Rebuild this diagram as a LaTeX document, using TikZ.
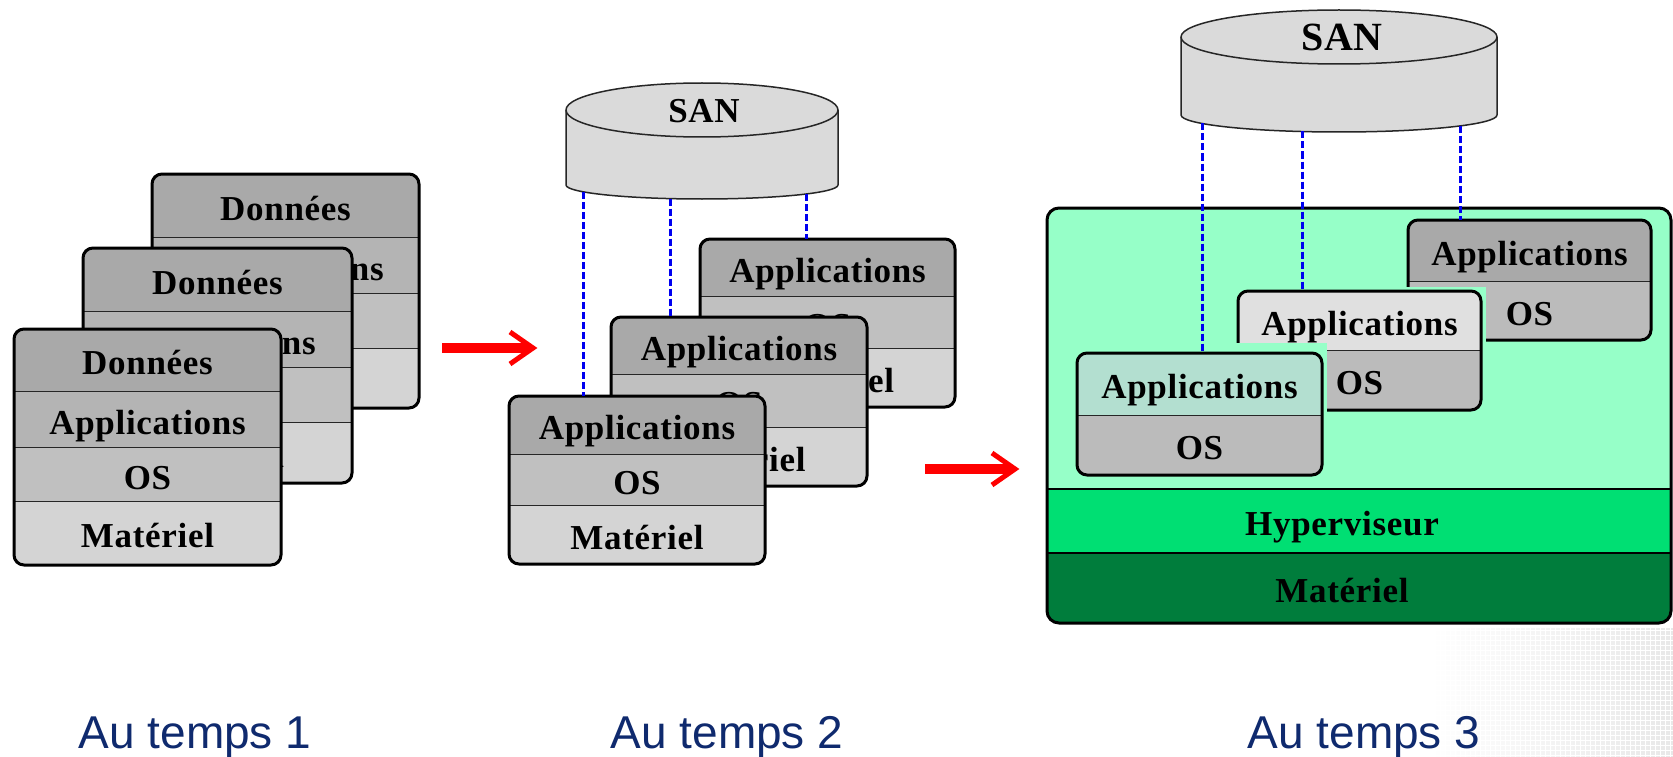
\documentclass[tikz,border=0pt]{standalone}
\usepackage{fontspec}
\setmainfont{Liberation Serif}
\newfontfamily\boxfont[LetterSpace=2]{Liberation Serif}
\newfontfamily\lblfont{Liberation Sans}
\usetikzlibrary{calc}
\definecolor{hdr}{HTML}{A9A9A9}
\definecolor{appc}{HTML}{B4B4B4}
\definecolor{osc}{HTML}{C0C0C0}
\definecolor{matc}{HTML}{D4D4D4}
\definecolor{osthree}{HTML}{BBBBBB}
\definecolor{hdrlight}{HTML}{E0E0E0}
\definecolor{hdrteal}{HTML}{B3DFD0}
\definecolor{mint}{HTML}{96FFC8}
\definecolor{hypc}{HTML}{00DF73}
\definecolor{hwc}{HTML}{007D3C}
\definecolor{sanc}{HTML}{DADADA}
\definecolor{navy}{HTML}{0F2A6E}
\definecolor{dashblue}{HTML}{0000F0}
\definecolor{arrred}{HTML}{FF0000}
\tikzset{
  boxborder/.style={draw=black, line width=3pt},
  rowline/.style={draw=black!85, line width=1.5pt},
  boxtext/.style={font=\boxfont\bfseries\fontsize{35}{40}\selectfont, inner sep=0pt, anchor=base},
  santext/.style={font=\boxfont\bfseries\fontsize{35}{40}\selectfont, inner sep=0pt, anchor=base},
  sanshape/.style={fill=sanc, draw=black!85, line width=1.5pt},
  sanlink/.style={draw=dashblue, line width=3pt, dash pattern=on 7pt off 3pt},
  redshaft/.style={draw=arrred, line width=10pt},
  redhead/.style={draw=arrred, line width=5pt, line join=miter, miter limit=10},
  lbl/.style={font=\lblfont\fontsize{46}{50}\selectfont, text=navy, inner sep=0pt, anchor=base},
}
% #1 name prefix, #2 x left, #3 x right, #4 y top, #5 y bottom, #6 rows ytop/ybot/colour/id/text
\newcommand\vmbox[6]{%
  \begin{scope}
    \clip[rounded corners=10pt] (#2,-#4) rectangle (#3,-#5);
    \foreach \ya/\yb/\col/\nm/\txt in {#6}{%
      \fill[\col] (#2,-\ya) rectangle (#3,-\yb);
      \draw[rowline] (#2,-\yb) -- (#3,-\yb);
      \node[boxtext] (#1-\nm) at ({(#2+#3)/2},{-(\ya+\yb)/2-14}) {\txt};
    }
  \end{scope}
  \draw[boxborder, rounded corners=10pt] (#2,-#4) rectangle (#3,-#5);
}
\begin{document}
\begin{tikzpicture}[x=1pt,y=1pt]
\useasboundingbox (0,0) rectangle (1673,-757);
\fill[white] (0,0) rectangle (1673,-757);
% decorative grid corner
\shade[left color=white, right color=black!9] (1430,-628) rectangle (1673,-757);
\draw[white, line width=0.8pt, step=5pt] (1430,-628) grid (1673,-757);

% ---------- Panel 1 ----------
\vmbox{c1}{152}{419}{174}{408}{174/238/hdr/h/Données,238/294/appc/a/Applications,294/349/osc/o/OS,349/408/matc/m/Matériel}
\vmbox{b1}{83}{352}{248}{483}{248/312/hdr/h/Données,312/368/appc/a/Applications,368/423/osc/o/OS,423/483/matc/m/Matériel}
\vmbox{a1}{14}{281}{329}{565}{329/392/hdr/h/Données,392/448/appc/a/Applications,448/502/osc/o/OS,502/565/matc/m/Matériel}

% arrow 1
\coordinate (ar1s) at (442,-348);
\coordinate (ar1e) at (530,-348);
\coordinate (ar1t) at (533,-348);
\draw[redshaft] (ar1s) -- (ar1e);
\draw[redhead] ($(ar1t)+(-23,16)$) -- (ar1t) -- ($(ar1t)+(-23,-16)$);

% ---------- Panel 2 ----------
\vmbox{c2}{700}{955}{239}{407}{239/297/hdr/a/Applications,297/349/osc/o/OS,349/407/matc/m/Matériel}
\vmbox{b2}{611}{867}{317}{486}{317/375/hdr/a/Applications,375/428/osc/o/OS,428/486/matc/m/Matériel}
\vmbox{a2}{509}{765}{396}{564}{396/455/hdr/a/Applications,455/506/osc/o/OS,506/564/matc/m/Matériel}

\filldraw[sanshape] (566,-110) -- (566,-185)
  arc[start angle=180,end angle=360,x radius=136pt,y radius=14pt]
  -- (838,-110)
  arc[start angle=0,end angle=180,x radius=136pt,y radius=27pt] -- cycle;
\draw[draw=black!85, line width=1.5pt] (566,-110) arc[start angle=180,end angle=360,x radius=136pt,y radius=27pt];
\node[santext] (san2) at (704,-123) {SAN};

\coordinate (s2a) at (583,-192);
\coordinate (s2b) at (670,-198.5);
\coordinate (s2c) at (806,-194);
\coordinate (t2a) at (583,-396);
\coordinate (t2b) at (670,-317);
\coordinate (t2c) at (806,-239);
\draw[sanlink] (s2a) -- (t2a);
\draw[sanlink] (s2b) -- (t2b);
\draw[sanlink] (s2c) -- (t2c);

% arrow 2
\coordinate (ar2s) at (925,-469);
\coordinate (ar2e) at (1012,-469);
\coordinate (ar2t) at (1015,-469);
\draw[redshaft] (ar2s) -- (ar2e);
\draw[redhead] ($(ar2t)+(-23,16)$) -- (ar2t) -- ($(ar2t)+(-23,-16)$);

% ---------- Panel 3 ----------
\begin{scope}
  \clip[rounded corners=12pt] (1047,-208) rectangle (1671,-623);
  \fill[mint] (1047,-208) rectangle (1671,-489);
  \fill[hypc] (1047,-489) rectangle (1671,-553);
  \fill[hwc] (1047,-553) rectangle (1671,-623);
  \draw[line width=2pt] (1047,-489) -- (1671,-489);
  \draw[line width=2pt] (1047,-553) -- (1671,-553);
\end{scope}
\draw[boxborder, rounded corners=12pt] (1047,-208) rectangle (1671,-623);
\node[boxtext] (hyp) at (1342,-535) {Hyperviseur};
\node[boxtext] (hw3) at (1342,-602) {Matériel};

\vmbox{c3}{1408}{1651}{220}{340}{220/282/hdr/a/Applications,282/340/osthree/o/OS}
\fill[mint] (1233,-287) rectangle (1486,-415);
\vmbox{b3}{1238}{1481}{291}{410}{291/351/hdrlight/a/Applications,351/410/osthree/o/OS}
\fill[mint] (1072,-343) rectangle (1327,-480);
\vmbox{a3}{1077}{1322}{353}{475}{353/416/hdrteal/a/Applications,416/475/osthree/o/OS}

\filldraw[sanshape] (1181,-37) -- (1181,-115)
  arc[start angle=180,end angle=360,x radius=158pt,y radius=17pt]
  -- (1497,-37)
  arc[start angle=0,end angle=180,x radius=158pt,y radius=27pt] -- cycle;
\draw[draw=black!85, line width=1.5pt] (1181,-37) arc[start angle=180,end angle=360,x radius=158pt,y radius=27pt];
\node[santext, font=\boxfont\bfseries\fontsize{40}{44}\selectfont] (san3) at (1342,-51) {SAN};

\coordinate (s3a) at (1202,-123.5);
\coordinate (s3b) at (1302,-131.5);
\coordinate (s3c) at (1460,-126);
\coordinate (t3a) at (1202,-353);
\coordinate (t3b) at (1302,-291);
\coordinate (t3c) at (1460,-220);
\draw[sanlink] (s3a) -- (t3a);
\draw[sanlink] (s3b) -- (t3b);
\draw[sanlink] (s3c) -- (t3c);

% ---------- Labels ----------
\node[lbl] (lab1) at (195,-748) {Au temps 1};
\node[lbl] (lab2) at (727,-748) {Au temps 2};
\node[lbl] (lab3) at (1364,-748) {Au temps 3};
\end{tikzpicture}
\end{document}
